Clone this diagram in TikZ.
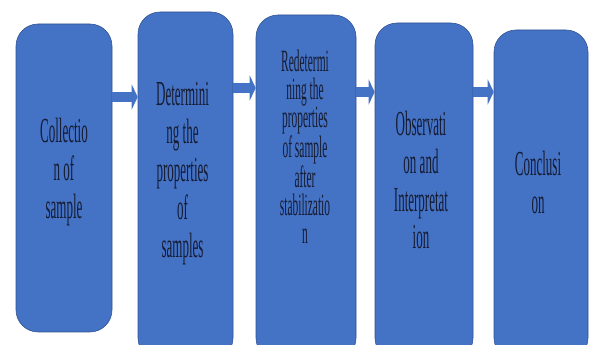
\documentclass[tikz,border=0pt]{standalone}
\usepackage{fontspec}
\setmainfont{Liberation Serif}
\newfontfamily\narrowserif[FakeStretch=0.37]{Liberation Serif}
\usetikzlibrary{arrows.meta, positioning}
\definecolor{BoxBlue}{RGB}{68, 114, 196}
\definecolor{BoxEdge}{RGB}{47, 82, 143}
\definecolor{InkNavy}{RGB}{22, 28, 52}

\tikzset{
  stagebox/.style={draw=BoxEdge, line width=0.4pt, fill=BoxBlue, rounded corners=0.55cm, inner sep=0pt},
  stagetext/.style={align=center, text=InkNavy, inner sep=0pt, font=\narrowserif\fontsize{25}{27}\selectfont},
  flowarrow/.style={draw=BoxBlue, line width=0.25cm, -{Triangle[length=0.15cm, width=0.62cm]}}
}

\begin{document}
\begin{tikzpicture}
    \useasboundingbox (0,0) rectangle (14.825,8.625);
    \clip (0,0) rectangle (14.825,8.625);

    % Stage boxes
    \node[stagebox, minimum width=2.4cm, minimum height=7.7cm] (b1) at (1.6, 4.175) {};
    \node[stagebox, minimum width=2.375cm, minimum height=8.7cm] (b2) at (4.6375, 3.975) {};
    \node[stagebox, minimum width=2.5cm, minimum height=8.625cm] (b3) at (7.65, 3.9375) {};
    \node[stagebox, minimum width=2.45cm, minimum height=8.425cm] (b4) at (10.6, 3.8375) {};
    \node[stagebox, minimum width=2.35cm, minimum height=8.25cm] (b5) at (13.525, 3.75) {};

    % Stage texts
    \node[stagetext] (t1) at (1.6, 4.325) {Collectio\\n of\\sample};
    \node[stagetext] (t2) at (4.5625, 4.29) {Determini\\ng the\\properties\\of\\samples};
    \node[stagetext, font=\narrowserif\fontsize{22}{20}\selectfont] (t3) at (7.625, 4.96) {Redetermi\\ning the\\properties\\of sample\\after\\stabilizatio\\n};
    \node[stagetext] (t4) at (10.525, 4.125) {Observati\\on and\\Interpretat\\ion};
    \node[stagetext] (t5) at (13.45, 4.06) {Conclusi\\on};

    % Flow arrows
    \draw[flowarrow] (b1.east |- 0,6.2) -- (b2.west |- 0,6.2);
    \draw[flowarrow] (b2.east |- 0,6.425) -- (b3.west |- 0,6.425);
    \draw[flowarrow] (b3.east |- 0,6.325) -- (b4.west |- 0,6.325);
    \draw[flowarrow] (b4.east |- 0,6.325) -- (b5.west |- 0,6.325);
\end{tikzpicture}
\end{document}
